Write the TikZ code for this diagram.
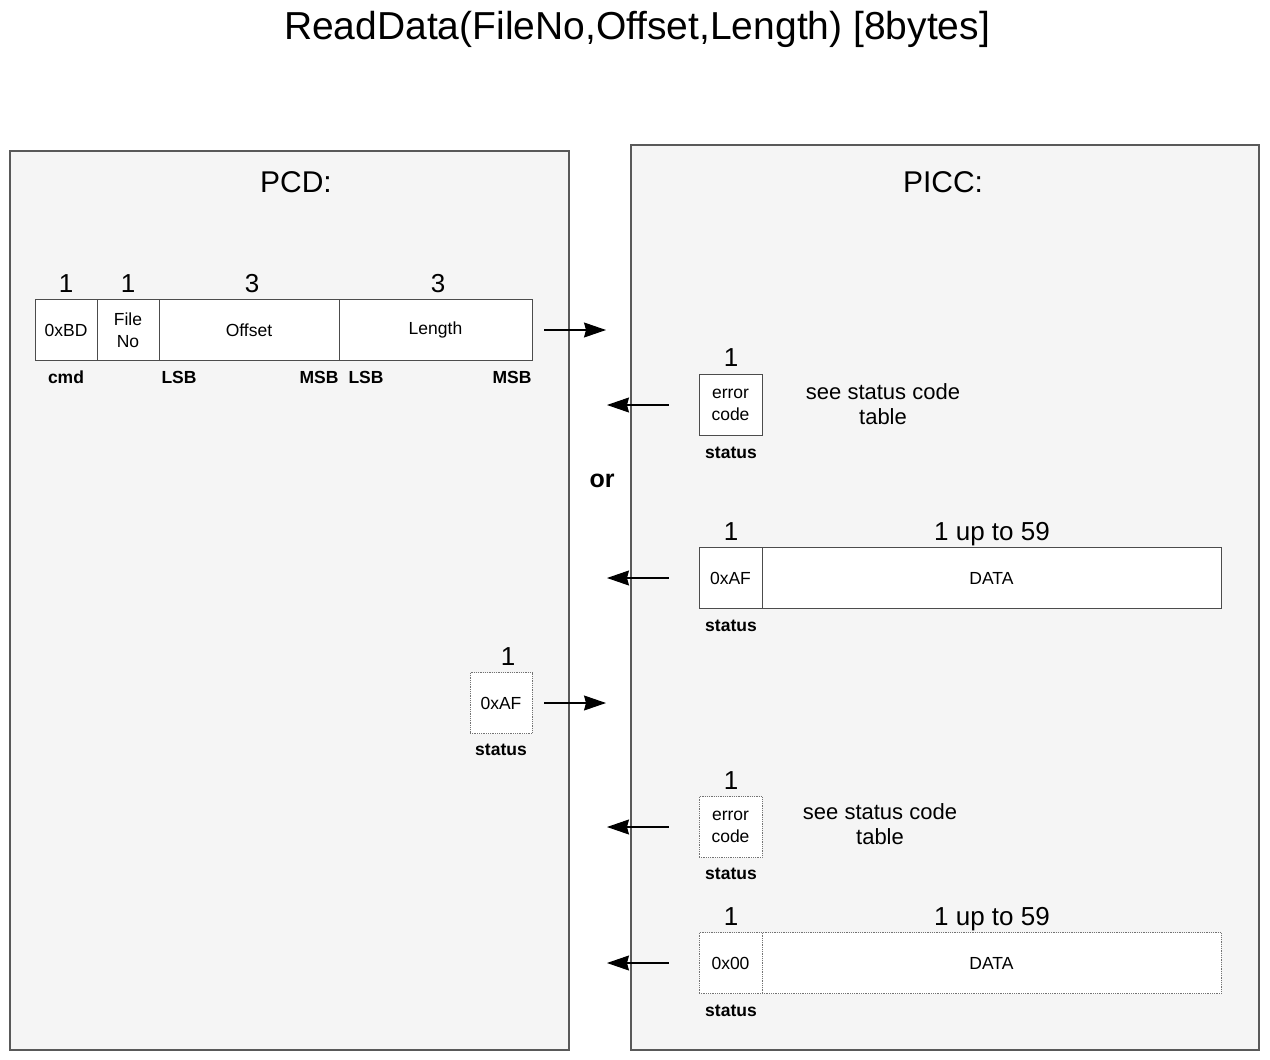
\documentclass[tikz,border=0pt]{standalone}
\usepackage{fontspec}
\setmainfont{Liberation Sans}
\usetikzlibrary{arrows.meta,positioning}
\newcommand{\fs}[2]{\fontsize{#1}{#2}\selectfont}

\begin{document}
\begin{tikzpicture}[x=1pt,y=-1pt,
    panel/.style={draw=black!65,line width=1.1pt,fill=black!4},
    field/.style={draw=black!70,line width=0.8pt,fill=white,minimum height=61pt,
      inner sep=0pt,align=center,font=\fs{17.5}{22}},
    opt/.style={field,densely dotted,draw=black!55},
    size/.style={anchor=base,font=\fs{26}{30}},
    tag/.style={anchor=base,font=\bfseries\fs{17.5}{21}},
    msg/.style={-{Stealth[length=22pt,width=15pt,inset=2pt]},line width=1.1pt}]
  \useasboundingbox (0,0) rectangle (1270,1060);
  \node[anchor=base,font=\fs{39}{44}] (title) at (637,39) {ReadData(FileNo,Offset,Length) [8bytes]};

  % the two sides
  \draw[panel] (10,151) rectangle (569,1050);
  \draw[panel] (631,145) rectangle (1259,1050);
  \node[anchor=base,font=\fs{30}{34}] (pcd) at (296,192) {PCD:};
  \node[anchor=base,font=\fs{30}{34}] (picc) at (943,192) {PICC:};

  % command frame
  \node[field,minimum width=62pt] (cmd) at (66,330) {0xBD};
  \node[field,minimum width=62pt] (fno) at (128,330) {File\\No};
  \node[field,minimum width=180pt] (off) at (249,330) {Offset};
  \node[field,minimum width=193pt] (len) at (435.5,330) {Length};
  \node[size] (ncmd) at (66,292) {1};
  \node[size] (nfno) at (128,292) {1};
  \node[size] (noff) at (252,292) {3};
  \node[size] (nlen) at (438,292) {3};
  \node[tag] (tcmd) at (66,383) {cmd};
  \node[tag] (tlsb1) at (179,383) {LSB};
  \node[tag] (tmsb1) at (319,383) {MSB};
  \node[tag] (tlsb2) at (366,383) {LSB};
  \node[tag] (tmsb2) at (512,383) {MSB};
  \coordinate (in1) at (606,330);
  \draw[msg,shorten <=12pt] (len.east) -- (in1);

  % answer: error
  \node[field,minimum width=63pt] (err1) at (730.5,405) {error\\code};
  \node[size] (nerr1) at (731,366) {1};
  \node[tag] (terr1) at (731,458) {status};
  \node[anchor=base,align=center,font=\fs{22}{25}] (see1) at (883,424) {see status code\\table};
  \coordinate (out1) at (607,405);
  \draw[msg,shorten <=30pt] (err1.west) -- (out1);

  \node[anchor=base,font=\bfseries\fs{25}{29}] (or) at (602,487) {or};

  % answer: more data
  \node[field,minimum width=63pt] (af1) at (730.5,578) {0xAF};
  \node[field,minimum width=459pt] (dat1) at (991.5,578) {DATA};
  \node[size] (naf1) at (731,540) {1};
  \node[size] (ndat1) at (992,540) {1 up to 59};
  \node[tag] (taf1) at (731,631) {status};
  \coordinate (out2) at (607,578);
  \draw[msg,shorten <=30pt] (af1.west) -- (out2);

  % next frame
  \node[opt,minimum width=62pt] (af2) at (501,703) {0xAF};
  \node[size] (naf2) at (508,665) {1};
  \node[tag] (taf2) at (501,755) {status};
  \coordinate (in2) at (606,703);
  \draw[msg,shorten <=12pt] (af2.east) -- (in2);

  \node[opt,minimum width=63pt] (err2) at (730.5,827) {error\\code};
  \node[size] (nerr2) at (731,789) {1};
  \node[tag] (terr2) at (731,879) {status};
  \node[anchor=base,align=center,font=\fs{22}{25}] (see2) at (880,844) {see status code\\table};
  \coordinate (out3) at (607,827);
  \draw[msg,shorten <=30pt] (err2.west) -- (out3);

  \node[opt,minimum width=63pt] (ok) at (730.5,963) {0x00};
  \node[opt,minimum width=459pt] (dat2) at (991.5,963) {DATA};
  \node[size] (nok) at (731,925) {1};
  \node[size] (ndat2) at (992,925) {1 up to 59};
  \node[tag] (tok) at (731,1016) {status};
  \coordinate (out4) at (607,963);
  \draw[msg,shorten <=30pt] (ok.west) -- (out4);
\end{tikzpicture}
\end{document}
